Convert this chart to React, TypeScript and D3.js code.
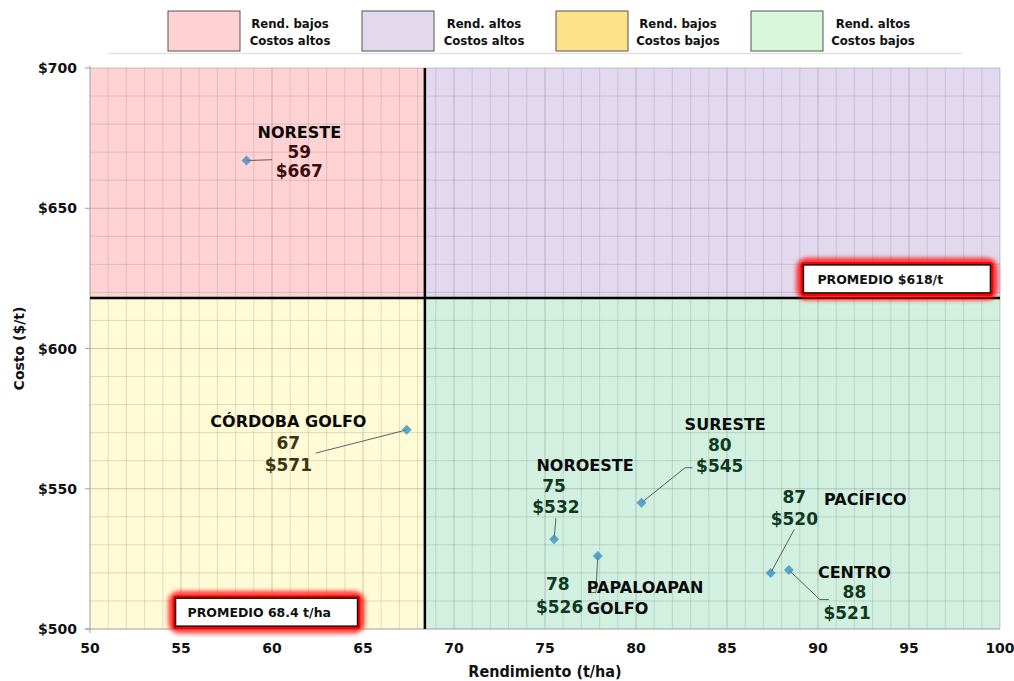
import { scaleLinear, range } from "d3";

// data
const regions = ["NORESTE", "CÓRDOBA GOLFO", "NOROESTE", "SURESTE", "PAPALOAPAN GOLFO", "PACÍFICO", "CENTRO"];
const yieldValues = [58.6, 67.4, 75.5, 80.3, 77.9, 87.4, 88.4];
const costValues = [667, 571, 532, 545, 526, 520, 521];
const yieldLabels = ["59", "67", "75", "80", "78", "87", "88"];
const costLabels = ["$667", "$571", "$532", "$545", "$526", "$520", "$521"];
const xTicks = [50, 55, 60, 65, 70, 75, 80, 85, 90, 95, 100];
const yTicks = [500, 550, 600, 650, 700];
const avgYield = 68.4;
const avgCost = 618;
const legendLines = [
  ["Rend. bajos", "Costos altos"],
  ["Rend. altos", "Costos altos"],
  ["Rend. bajos", "Costos bajos"],
  ["Rend. altos", "Costos bajos"],
];
const legendColors = ["#ffd1d1", "#e3d9ed", "#fee28a", "#d9f8d9"];

const W = 1014;
const H = 681;
const M = { left: 90, right: 14, top: 68, bottom: 52 };

const MONT = "'DejaVu Sans', Verdana, sans-serif";
const NARROW = "'Liberation Sans Narrow', 'DejaVu Sans Condensed', 'Open Sans', sans-serif";

export default function App() {
  const x = scaleLinear().domain([50, 100]).range([M.left, W - M.right]);
  const y = scaleLinear().domain([500, 700]).range([H - M.bottom, M.top]);
  const x0 = x(50), x1 = x(100), y0 = y(500), y1 = y(700);
  const ax = x(avgYield), ay = y(avgCost);

  const quads = [
    { x: x0, y: y1, w: ax - x0, h: ay - y1, fill: "#ffd3d3" },
    { x: ax, y: y1, w: x1 - ax, h: ay - y1, fill: "#e2d9ee" },
    { x: x0, y: ay, w: ax - x0, h: y0 - ay, fill: "#fffbd6" },
    { x: ax, y: ay, w: x1 - ax, h: y0 - ay, fill: "#d2f0df" },
  ];

  const diamond = (i: number) => {
    const cx = x(yieldValues[i]), cy = y(costValues[i]), r = 5;
    return `M${cx},${cy - r}L${cx + r},${cy}L${cx},${cy + r}L${cx - r},${cy}Z`;
  };

  // leader lines (data space)
  const leaders: [number, number][][] = [
    [[58.6, 667], [60.0, 667.3]],
    [[67.4, 571], [62.4, 562.7]],
    [[75.5, 532], [75.6, 539.5]],
    [[80.3, 545], [82.7, 557.5], [83.1, 557.5]],
    [[77.9, 526], [77.8, 513], [77.4, 513]],
    [[87.4, 520], [88.7, 535.5]],
    [[88.4, 521], [90.1, 510.5], [90.6, 510.5]],
  ];

  // label placements: [x, y(baseline), text, anchor, kind]
  const texts: [number, number, string, string, string][] = [
    [61.5, 675, regions[0], "middle", "name"],
    [61.5, 668, yieldLabels[0], "middle", "num"],
    [61.5, 661, costLabels[0], "middle", "num"],
    [60.9, 572.0, regions[1], "middle", "name"],
    [60.9, 564.2, yieldLabels[1], "middle", "num"],
    [60.9, 556.3, costLabels[1], "middle", "num"],
    [77.2, 556.5, regions[2], "middle", "name"],
    [75.5, 549.0, yieldLabels[2], "middle", "num"],
    [75.6, 541.5, costLabels[2], "middle", "num"],
    [84.9, 570.8, regions[3], "middle", "name"],
    [84.6, 563.4, yieldLabels[3], "middle", "num"],
    [84.6, 555.8, costLabels[3], "middle", "num"],
    [75.7, 514.0, yieldLabels[4], "middle", "num"],
    [75.8, 505.8, costLabels[4], "middle", "num"],
    [77.3, 513.0, "PAPALOAPAN", "start", "name"],
    [77.3, 505.2, "GOLFO", "start", "name"],
    [88.7, 544.8, yieldLabels[5], "middle", "num"],
    [88.7, 537.2, costLabels[5], "middle", "num"],
    [92.6, 544.3, regions[5], "middle", "name"],
    [92.0, 518.2, regions[6], "middle", "name"],
    [92.0, 511.0, yieldLabels[6], "middle", "num"],
    [91.6, 503.6, costLabels[6], "middle", "num"],
  ];
  const numColors = ["#3d0c10", "#3b3612", "#0f3a22"];
  const numColorFor = (xv: number, yv: number) =>
    yv > avgCost ? numColors[0] : xv < avgYield ? numColors[1] : numColors[2];

  const legendX = [168, 362, 556, 751];

  const promedioBoxes = [
    { x: x(89.2), y: y(629.8), w: 187, h: 28, text: `PROMEDIO $${avgCost}/t`, tx: 14 },
    { x: x(54.7), y: y(511), w: 182, h: 28, text: `PROMEDIO ${avgYield} t/ha`, tx: 12 },
  ];

  return (
    <div style={{ position: "absolute", left: 0, top: 0 }}>
      <svg width={W} height={H} style={{ display: "block", background: "#fff" }}>
        <defs>
          <filter id="glow" x="-20%" y="-60%" width="140%" height="220%">
            <feGaussianBlur stdDeviation="2.5" />
          </filter>
        </defs>

        {/* legend */}
        {legendLines.map((lines, i) => (
          <g key={i}>
            <rect x={legendX[i]} y={11} width={72} height={40} fill={legendColors[i]} stroke="#555" strokeWidth={1} />
            {lines.map((t, j) => (
              <text key={j} x={legendX[i] + 122} y={28 + j * 17} textAnchor="middle"
                fontFamily={NARROW} fontWeight="bold" fontSize={13} fill="#111">{t}</text>
            ))}
          </g>
        ))}
        <line x1={108} x2={962} y1={53.5} y2={53.5} stroke="#e2e2e2" strokeWidth={1.5} />

        {/* quadrants */}
        {quads.map((q, i) => (
          <rect key={i} x={q.x} y={q.y} width={q.w} height={q.h} fill={q.fill} />
        ))}

        {/* grid */}
        {range(51, 101, 1).map((v) => (
          <line key={"gx" + v} x1={x(v)} x2={x(v)} y1={y1} y2={y0}
            stroke="#5a5a5a" strokeOpacity={v % 5 === 0 ? 0.3 : 0.18} strokeWidth={1} />
        ))}
        {range(510, 701, 10).map((v) => (
          <line key={"gy" + v} x1={x0} x2={x1} y1={y(v)} y2={y(v)}
            stroke="#5a5a5a" strokeOpacity={v % 50 === 0 ? 0.3 : 0.2} strokeWidth={1} />
        ))}

        {/* axes */}
        <line x1={x0} x2={x0} y1={y1 - 2} y2={y0 + 4} stroke="#a0a0a0" strokeWidth={1} />
        <line x1={x0 - 5} x2={x1} y1={y0} y2={y0} stroke="#a0a0a0" strokeWidth={1} />
        {yTicks.map((v) => (
          <g key={"yt" + v}>
            <line x1={x0 - 5} x2={x0} y1={y(v)} y2={y(v)} stroke="#a0a0a0" />
            <text x={x0 - 13} y={y(v) + 5} textAnchor="end" fontFamily={MONT} fontWeight="bold"
              fontSize={14} fill="#111">${v}</text>
          </g>
        ))}
        {xTicks.map((v) => (
          <text key={"xt" + v} x={x(v)} y={y0 + 24} textAnchor="middle" fontFamily={MONT}
            fontWeight="bold" fontSize={14} fill="#111">{v}</text>
        ))}
        <text x={(x0 + x1) / 2} y={H - 4} textAnchor="middle" fontFamily={NARROW} fontWeight="bold"
          fontSize={16} fill="#111">Rendimiento (t/ha)</text>
        <text transform={`translate(24,${(y0 + y1) / 2}) rotate(-90)`} textAnchor="middle"
          fontFamily={MONT} fontWeight="bold" fontSize={14} fill="#111">Costo ($/t)</text>

        {/* averages */}
        <line x1={ax} x2={ax} y1={y1} y2={y0} stroke="#000" strokeWidth={2.5} />
        <line x1={x0} x2={x1} y1={ay} y2={ay} stroke="#000" strokeWidth={2.5} />

        {/* promedio boxes */}
        {promedioBoxes.map((b, i) => (
          <g key={"pb" + i}>
            <rect x={b.x - 4} y={b.y - 4} width={b.w + 8} height={b.h + 8} rx={7} fill="none"
              stroke="#ff0000" strokeWidth={5} filter="url(#glow)" />
            <rect x={b.x - 3} y={b.y - 3} width={b.w + 6} height={b.h + 6} rx={4} fill="#ff0000" />
            <rect x={b.x} y={b.y} width={b.w} height={b.h} fill="#fff" stroke="#111" strokeWidth={1.5} />
            <text x={b.x + b.tx} y={b.y + 19} fontFamily={MONT} fontWeight="bold" fontSize={12.5} fill="#111">{b.text}</text>
          </g>
        ))}

        {/* leaders */}
        {leaders.map((pts, i) => (
          <polyline key={"ld" + i} points={pts.map(([a, b]) => `${x(a)},${y(b)}`).join(" ")}
            fill="none" stroke="#3c3c3c" strokeWidth={1} strokeOpacity={0.8} />
        ))}

        {/* points */}
        {regions.map((r, i) => (
          <path key={r} d={diamond(i)} fill="#3d90c4" fillOpacity={0.8} />
        ))}

        {/* labels */}
        {texts.map(([tx, ty, t, anchor, kind], i) => (
          <text key={"lb" + i} x={x(tx)} y={y(ty)} textAnchor={anchor} fontFamily={MONT}
            fontWeight="bold" fontSize={kind === "name" ? 16 : 17}
            fill={kind === "name" ? "#0a0a0a" : numColorFor(tx, ty)}>{t}</text>
        ))}
      </svg>
    </div>
  );
}
